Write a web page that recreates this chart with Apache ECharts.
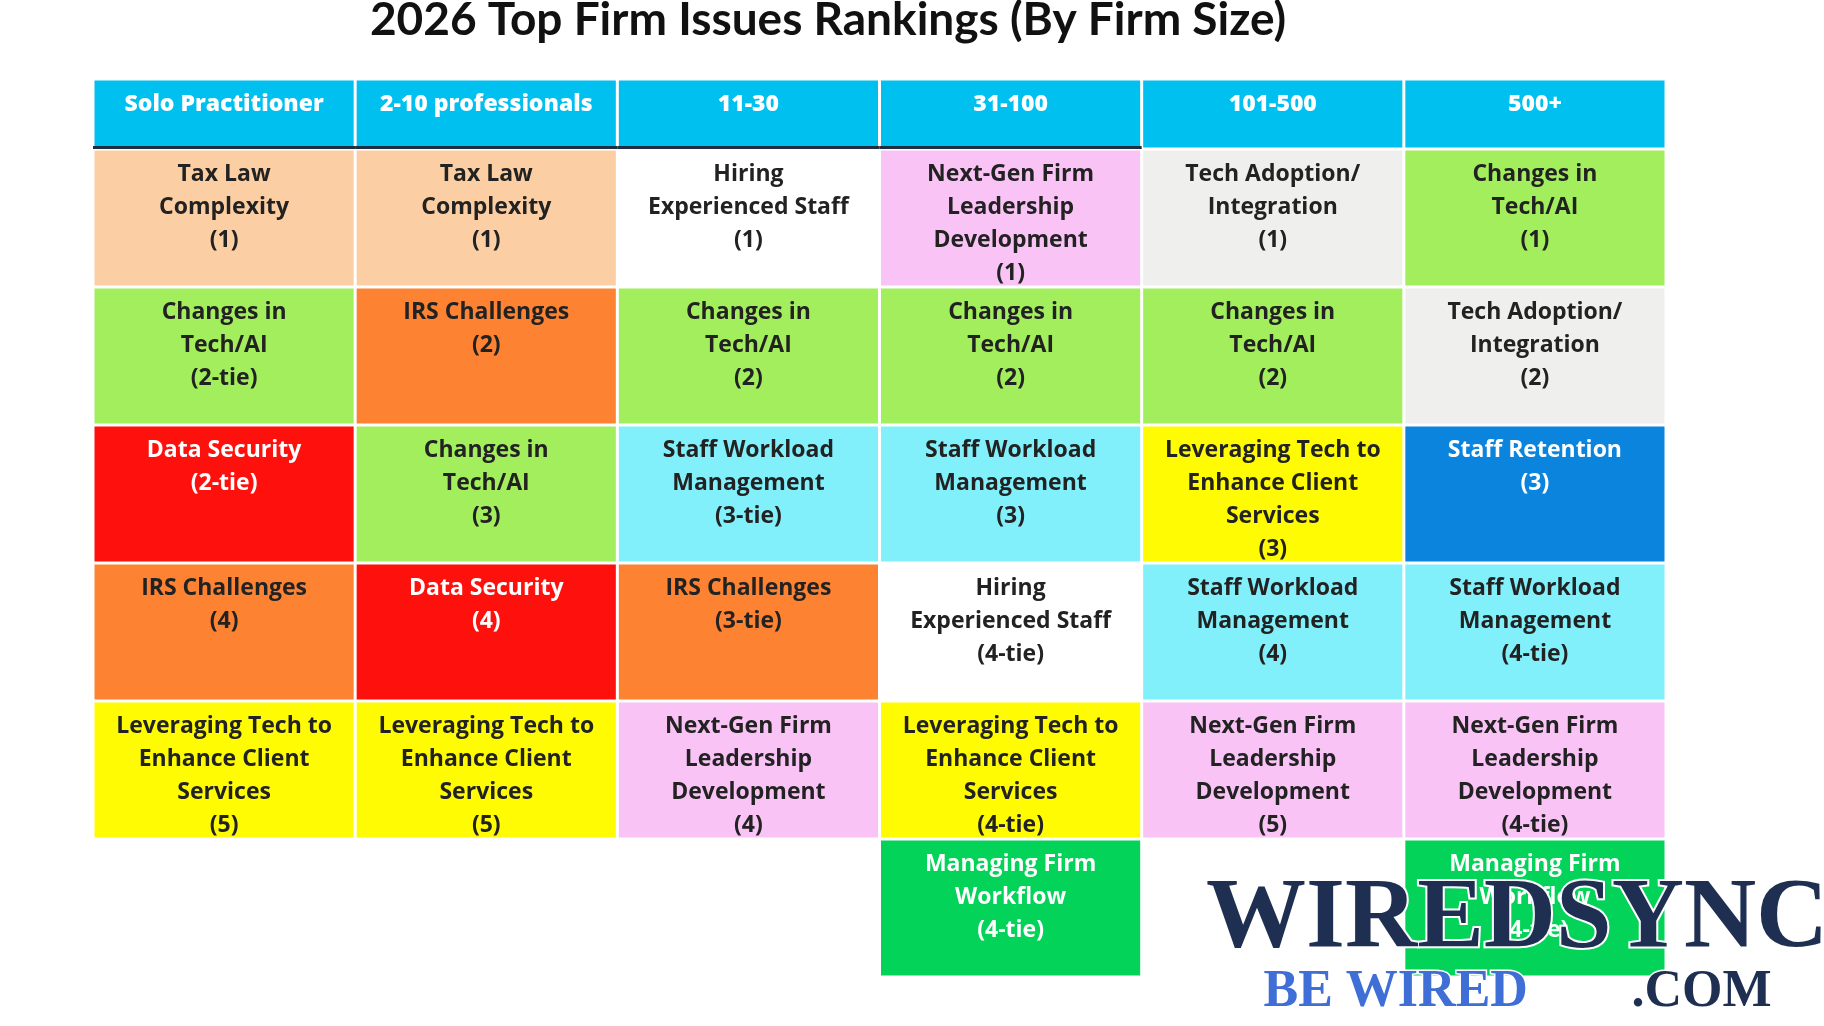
<!DOCTYPE html>
<html><head><meta charset="utf-8">
<script src="https://cdn.jsdelivr.net/npm/echarts@6/dist/echarts.min.js"></script>
<style>html,body{margin:0;background:#fff}#c{width:1824px;height:1026px}</style>
</head><body><div id="c"></div>
<script>
const sizes = ["Solo Practitioner","2-10 professionals","11-30","31-100","101-500","500+"];
const rowsIdx = ["r1","r2","r3","r4","r5","r6"];
const solo = ["Tax Law\nComplexity\n(1)","Changes in\nTech/AI\n(2-tie)","Data Security\n(2-tie)","IRS Challenges\n(4)","Leveraging Tech to\nEnhance Client\nServices\n(5)",null];
const small = ["Tax Law\nComplexity\n(1)","IRS Challenges\n(2)","Changes in\nTech/AI\n(3)","Data Security\n(4)","Leveraging Tech to\nEnhance Client\nServices\n(5)",null];
const mid = ["Hiring\nExperienced Staff\n(1)","Changes in\nTech/AI\n(2)","Staff Workload\nManagement\n(3-tie)","IRS Challenges\n(3-tie)","Next-Gen Firm\nLeadership\nDevelopment\n(4)",null];
const upper = ["Next-Gen Firm\nLeadership\nDevelopment\n(1)","Changes in\nTech/AI\n(2)","Staff Workload\nManagement\n(3)","Hiring\nExperienced Staff\n(4-tie)","Leveraging Tech to\nEnhance Client\nServices\n(4-tie)","Managing Firm\nWorkflow\n(4-tie)"];
const large = ["Tech Adoption/\nIntegration\n(1)","Changes in\nTech/AI\n(2)","Leveraging Tech to\nEnhance Client\nServices\n(3)","Staff Workload\nManagement\n(4)","Next-Gen Firm\nLeadership\nDevelopment\n(5)",null];
const biggest = ["Changes in\nTech/AI\n(1)","Tech Adoption/\nIntegration\n(2)","Staff Retention\n(3)","Staff Workload\nManagement\n(4-tie)","Next-Gen Firm\nLeadership\nDevelopment\n(4-tie)","Managing Firm\nWorkflow\n(4-tie)"];
const columns = [solo, small, mid, upper, large, biggest];

const style = {
 "Tax Law":["#fbcfa3","#222"], "Hiring":["#ffffff","#222"], "Next-Gen":["#f9c3f6","#222"],
 "Tech Adoption":["#efefed","#222"], "Changes in":["#a2ee5c","#222"], "IRS":["#fd8231","#222"],
 "Data Security":["#fe100d","#fff"], "Staff Workload":["#82f0fb","#222"], "Leveraging":["#fffb02","#222"],
 "Staff Retention":["#0b84de","#fff"], "Managing":["#03d358","#fff"]
};
function sty(t){for(const k in style) if(t.startsWith(k)) return style[k]; return ["#fff","#222"];}
const body=[];
columns.forEach((col,ci)=>col.forEach((t,ri)=>{ if(t) body.push([ci,ri,t]); }));
const head = sizes.map((s,i)=>[i,0,s]);
const font = '"Open Sans", "Noto Sans", sans-serif';
function cell(isHead){
 return function(params, api){
  const c = api.coord([api.value(0), api.value(1)]);
  const s = api.size([1,1]);
  const t = isHead ? head[params.dataIndex][2] : body[params.dataIndex][2];
  const st = isHead ? ["#00c0f0","#fff"] : sty(t);
  const x0=c[0]-s[0]/2, y0=c[1]-s[1]/2;
  const ch=[{type:'rect',shape:{x:x0+1.5,y:y0+1.5,width:s[0]-3,height:s[1]-3},style:{fill:st[0]}},
   {type:'text',style:{text:t,x:c[0],y:y0+(isHead?8:9),align:'center',verticalAlign:'top',
     fill:st[1],font:(isHead?'800 23px ':'700 23px ')+font,lineHeight:isHead?34:33}}];
  if(isHead && api.value(0)<4) ch.push({type:'rect',shape:{x:x0,y:y0+s[1]-3,width:s[0],height:3},style:{fill:'#1d2d44'}});
  return {type:'group',children:ch};
 };
}
const axisOff={show:false};
const chart = echarts.init(document.getElementById('c'));
chart.setOption({
 title:{text:'2026 Top Firm Issues Rankings (By Firm Size)',left:823,textAlign:'center',top:-8,
   textStyle:{fontSize:46,fontWeight:700,color:'#111',fontFamily:'Lato, "Open Sans", sans-serif'}},
 grid:[{left:93,top:79,width:1573,height:70},{left:93,top:149,width:1573,height:828}],
 xAxis:[{type:'category',data:sizes,gridIndex:0,...axisOff},{type:'category',data:sizes,gridIndex:1,...axisOff}],
 yAxis:[{type:'category',data:['h'],gridIndex:0,...axisOff},{type:'category',data:rowsIdx,inverse:true,gridIndex:1,...axisOff}],
 series:[
  {type:'custom',xAxisIndex:0,yAxisIndex:0,data:head,renderItem:cell(true),silent:true},
  {type:'custom',xAxisIndex:1,yAxisIndex:1,data:body,renderItem:cell(false),silent:true}
 ],
 graphic:[
  {type:'text',left:1204,top:868,z:100,style:{text:'WIREDSYNC',font:'700 100px "Liberation Serif", serif',fill:'#1e2f52',stroke:'#fff',lineWidth:4}},
  {type:'text',left:1262,top:965,z:100,style:{text:'BE WIRED',font:'700 52px "Liberation Serif", serif',fill:'#3f6fd6',stroke:'#fff',lineWidth:3}},
  {type:'text',left:1630,top:965,z:100,style:{text:'.COM',font:'700 52px "Liberation Serif", serif',fill:'#1e2f52',stroke:'#fff',lineWidth:3}}
 ]
});
</script></body></html>
